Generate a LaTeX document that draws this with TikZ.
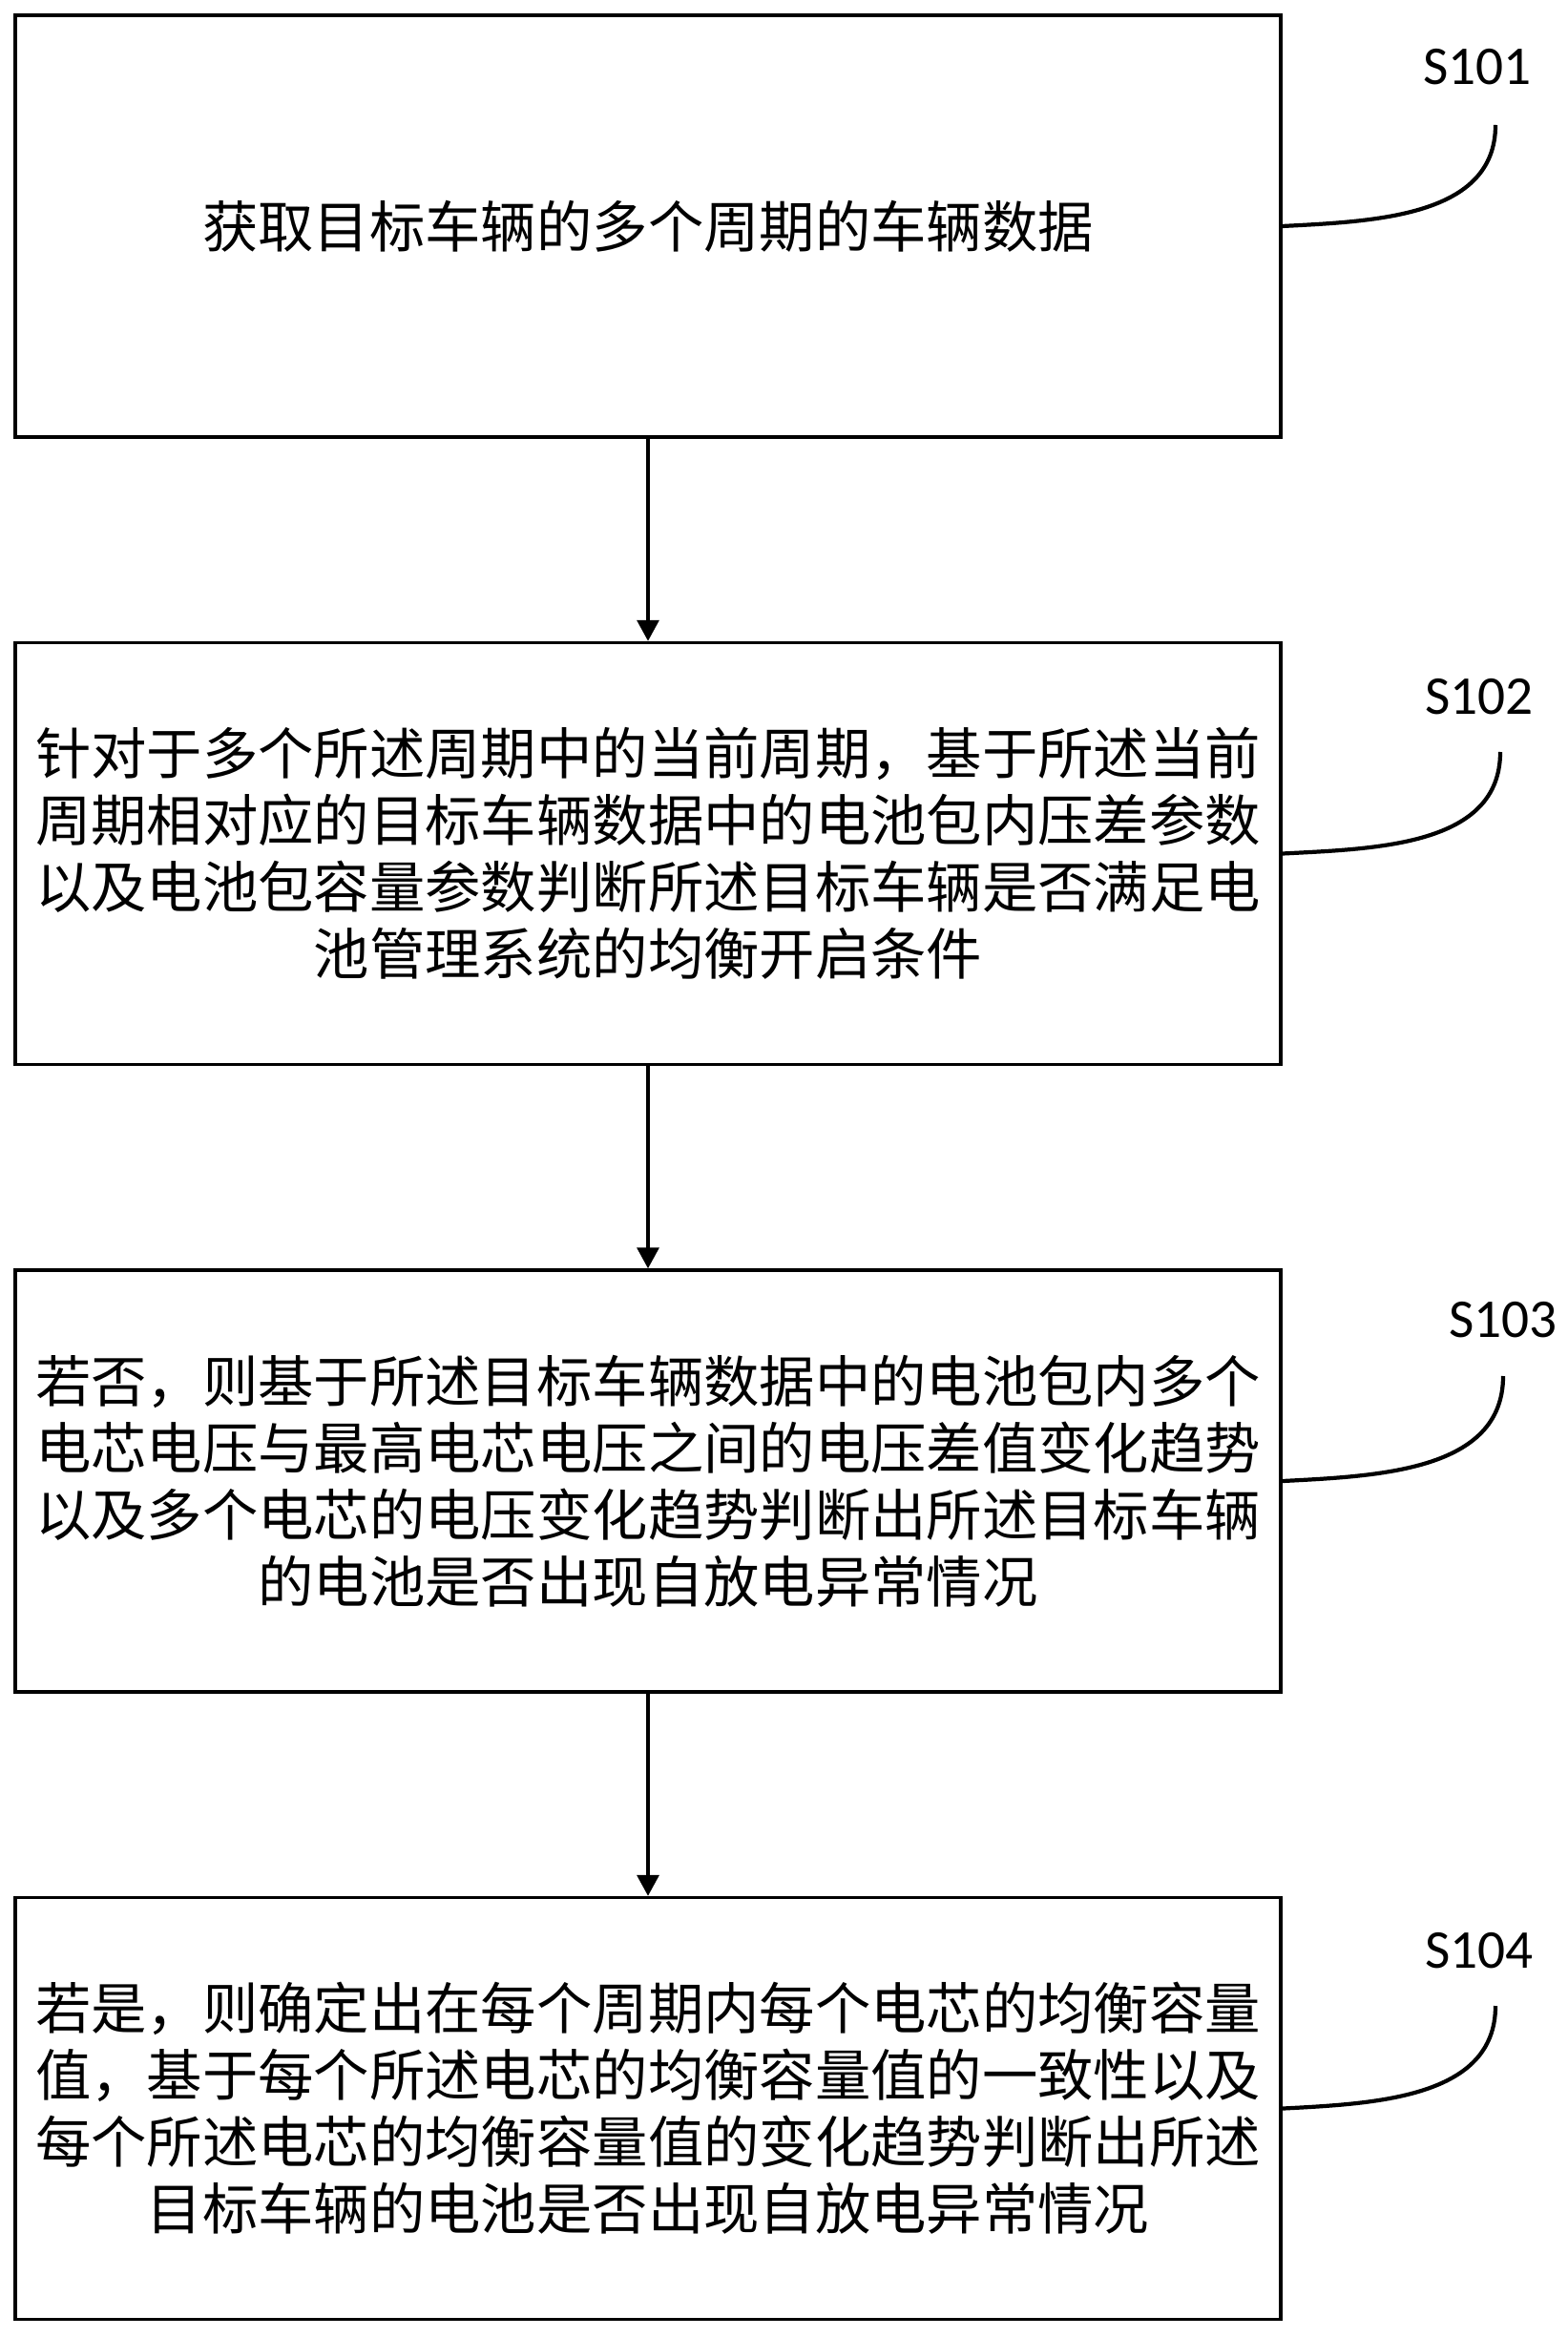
\documentclass[tikz,border=0pt]{standalone}
\usepackage{fontspec}
\newfontfamily\cjk{Noto Sans CJK SC}
\newfontfamily\steplab{Carlito}
\usetikzlibrary{positioning,arrows.meta}

\begin{document}
\begin{tikzpicture}[
stepbox/.style={
  draw,
  line width=1pt,
  minimum width=13.26cm,
  minimum height=4.42cm,
  inner sep=0pt,
  align=center,
  font=\cjk\fontsize{16.6}{19.9}\selectfont
  },
tag/.style={
  font=\steplab\fontsize{16.3}{18}\selectfont,
  inner sep=0pt
  },
lead/.style={
  line width=1.2pt
  },
>={Triangle[width=0.23cm,length=0.22cm]}
]
\useasboundingbox (0,0) rectangle (16.42,-24.49);

\node[stepbox] (s1) at (6.79,-2.37) {获取目标车辆的多个周期的车辆数据};
\node[stepbox,below=2.12cm of s1] (s2) {针对于多个所述周期中的当前周期，基于所述当前\\周期相对应的目标车辆数据中的电池包内压差参数\\以及电池包容量参数判断所述目标车辆是否满足电\\池管理系统的均衡开启条件};
\node[stepbox,below=2.12cm of s2] (s3) {若否，则基于所述目标车辆数据中的电池包内多个\\电芯电压与最高电芯电压之间的电压差值变化趋势\\以及多个电芯的电压变化趋势判断出所述目标车辆\\的电池是否出现自放电异常情况};
\node[stepbox,below=2.12cm of s3] (s4) {若是，则确定出在每个周期内每个电芯的均衡容量\\值，基于每个所述电芯的均衡容量值的一致性以及\\每个所述电芯的均衡容量值的变化趋势判断出所述\\目标车辆的电池是否出现自放电异常情况};

\node[tag] (t1) at (15.48,-0.70) {S101};
\node[tag] (t2) at (15.50,-7.30) {S102};
\node[tag] (t3) at (15.75,-13.83) {S103};
\node[tag] (t4) at (15.50,-20.44) {S104};

\coordinate (e1) at (15.67,-1.31);
\coordinate (e2) at (15.72,-7.88);
\coordinate (e3) at (15.75,-14.42);
\coordinate (e4) at (15.67,-21.02);

\foreach \i in {1,2,3,4}
  \draw[lead] (s\i.east) to[out=3,in=-90] (e\i);

\foreach \i/\j in {1/2,2/3,3/4}
  \draw[->,line width=1pt] (s\i) -- (s\j);

\end{tikzpicture}
\end{document}
